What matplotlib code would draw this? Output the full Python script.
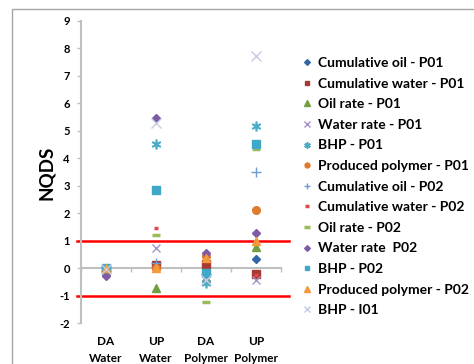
import matplotlib
matplotlib.use("Agg")
import matplotlib.pyplot as plt
from matplotlib.patches import Rectangle
from matplotlib.transforms import blended_transform_factory

categories = ["DA\nWater", "UP\nWater", "DA\nPolymer", "UP\nPolymer"]
series_names = [
    "Cumulative oil - P01", "Cumulative water - P01", "Oil rate - P01",
    "Water rate - P01", "BHP - P01", "Produced polymer - P01",
    "Cumulative oil - P02", "Cumulative water - P02", "Oil rate - P02",
    "Water rate  P02", "BHP - P02", "Produced polymer - P02", "BHP - I01",
]
cum_oil_p01 = [-0.10, 0.05, 0.15, 0.34]
cum_water_p01 = [-0.05, 0.10, 0.15, -0.22]
oil_rate_p01 = [-0.10, -0.72, -0.35, 0.76]
water_rate_p01 = [-0.10, 0.72, -0.40, -0.45]
bhp_p01 = [-0.05, 4.53, -0.53, 5.17]
prod_poly_p01 = [-0.05, 0.00, 0.43, 2.11]
cum_oil_p02 = [-0.10, 0.20, -0.20, 3.50]
cum_water_p02 = [-0.05, 1.45, -0.10, -0.25]
oil_rate_p02 = [-0.15, 1.21, -1.24, 4.32]
water_rate_p02 = [-0.28, 5.48, 0.55, 1.28]
bhp_p02 = [0.00, 2.85, -0.17, 4.53]
prod_poly_p02 = [0.00, 0.00, 0.35, 1.00]
bhp_i01 = [-0.05, 5.27, -0.45, 7.71]
limits = [1, -1]
y_ticks = list(range(-2, 10))

values = [cum_oil_p01, cum_water_p01, oil_rate_p01, water_rate_p01, bhp_p01,
          prod_poly_p01, cum_oil_p02, cum_water_p02, oil_rate_p02,
          water_rate_p02, bhp_p02, prod_poly_p02, bhp_i01]

styles = [
    dict(marker="D", color="#3366A8", ms=4.5),
    dict(marker="s", color="#A83A36", ms=5.5),
    dict(marker="^", color="#72A040", ms=6),
    dict(marker="x", color="#A594C8", ms=6, mew=1.0),
    dict(marker=(6, 2, 0), color="#4BACC6", ms=7, mew=1.2),
    dict(marker="o", color="#E07A2E", ms=5.5),
    dict(marker="+", color="#6F9BD2", ms=7, mew=1.0),
    dict(marker="_", color="#E0494A", ms=3.5, mew=2.5),
    dict(marker="_", color="#9BBB59", ms=6, mew=2.5),
    dict(marker="D", color="#7F5BA6", ms=4.5),
    dict(marker="s", color="#3FA7C7", ms=5.5),
    dict(marker="^", color="#F59A3B", ms=6),
    dict(marker="x", color="#C3CCE5", ms=7, mew=1.0),
]

W, H = 474, 364
fig = plt.figure(figsize=(W / 100, H / 100), dpi=100)
fig.patch.set_facecolor("white")
fig.patches.append(Rectangle((12 / W, -0.1), 1.2, (H - 9) / H + 0.1,
                             transform=fig.transFigure, fill=False,
                             edgecolor="#A6A6A6", lw=1.0))

ax = fig.add_axes([81 / W, (H - 323) / H, 200 / W, 302 / H])
ax.set_xlim(0.5, 4.5)
ax.set_ylim(-2, 9)

xs = list(range(1, len(categories) + 1))
for name, vals, st in zip(series_names, values, styles):
    st = dict(st)
    c = st.pop("color")
    ax.plot(xs, vals, linestyle="none", color=c, mfc=c, mec=c,
            label=name, zorder=3, **st)

for lv in limits:
    ax.plot([0.42, 4.66], [lv, lv], color="#FF0000", lw=1.8,
            clip_on=False, zorder=2)

for s in ["top", "right"]:
    ax.spines[s].set_visible(False)
ax.spines["left"].set_color("#BFBFBF")
ax.spines["left"].set_linewidth(1.5)
ax.spines["bottom"].set_position(("data", 0))
ax.spines["bottom"].set_color("#BFBFBF")
ax.spines["bottom"].set_linewidth(1.5)

ax.set_yticks(y_ticks)
ax.set_yticklabels([str(t) for t in y_ticks], fontweight="bold",
                   fontsize=8, family="Lato")
ax.tick_params(axis="y", length=3, color="#BFBFBF", width=1, pad=5)
ax.set_xticks([0.5, 1.5, 2.5, 3.5, 4.5])
ax.set_xticklabels([])
ax.tick_params(axis="x", length=3, color="#BFBFBF", width=1, direction="out")

trans = blended_transform_factory(ax.transData, ax.transAxes)
for x, lab in zip(xs, categories):
    ax.text(x, -0.042, lab, transform=trans, ha="center", va="top",
            fontsize=8.5, fontweight="bold", family="Lato", linespacing=1.7)

fig.text(47 / W, 1 - 173 / H, "NQDS", rotation=90, ha="center", va="center",
         fontsize=13.5, fontweight="bold", family="Lato")

leg = fig.legend(loc="upper left", bbox_to_anchor=(302 / W, 1 - 57 / H),
                 frameon=False, prop=dict(family="Lato", weight="bold", size=10),
                 handlelength=0.7, handletextpad=0.45, labelspacing=0.62,
                 borderpad=0, borderaxespad=0, markerscale=0.65)

fig.savefig("out.png", dpi=100)
